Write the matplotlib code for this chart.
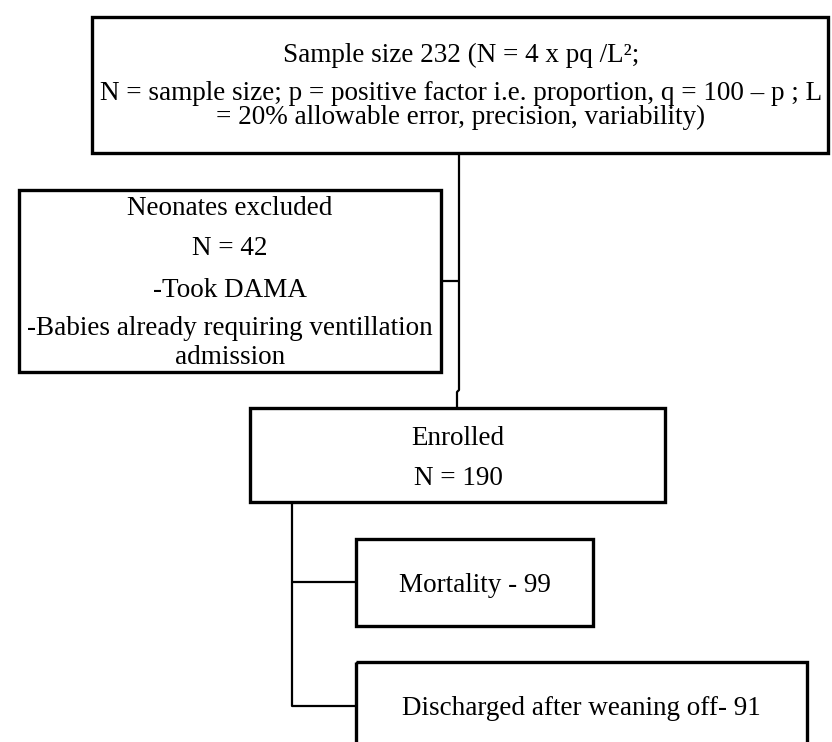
import matplotlib.pyplot as plt
from matplotlib.patches import Rectangle

plt.rcParams["font.family"] = ["Liberation Serif", "DejaVu Serif"]

# Flow numbers
sample_size = 232
excluded = 42
enrolled = 190
mortality = 99
discharged = 91

top_lines = [
    f"Sample size {sample_size} (N = 4 x pq /L²;",
    "N = sample size; p = positive factor i.e. proportion, q = 100 – p ; L",
    "= 20% allowable error, precision, variability)",
]
excluded_lines = [
    "Neonates excluded",
    f"N = {excluded}",
    "-Took DAMA",
    "-Babies already requiring ventillation",
    "admission",
]
enrolled_lines = ["Enrolled", f"N = {enrolled}"]
mortality_label = f"Mortality - {mortality}"
discharged_label = f"Discharged after weaning off- {discharged}"

fig = plt.figure(figsize=(8.32, 7.42), dpi=100)
ax = fig.add_axes([0, 0, 1, 1])
ax.set_xlim(0, 832)
ax.set_ylim(742, 0)
ax.axis("off")

fs = 19.5


def box(x0, y0, x1, y1, lw=2.4):
    ax.add_patch(Rectangle((x0, y0), x1 - x0, y1 - y0, fill=False,
                           edgecolor="black", linewidth=lw, clip_on=True))


def label(x, y, t):
    ax.text(x, y, t, ha="center", va="baseline", fontsize=fs)


def line(xs, ys, lw=1.6):
    ax.plot(xs, ys, color="black", linewidth=lw, solid_capstyle="butt")


# top box
box(92, 17, 828, 153)
for y, t in zip([62, 100, 124], top_lines):
    label(461, y, t)

# excluded box
box(19, 190, 441, 372)
for y, t in zip([215, 255, 297, 335, 364], excluded_lines):
    label(230, y, t)

# enrolled box
box(250, 408, 665, 502)
for y, t in zip([445, 485], enrolled_lines):
    label(458, y, t)

# mortality and discharged boxes
box(356, 539, 593, 626)
label(475, 592, mortality_label)
box(356, 662, 807, 780)
label(581, 715, discharged_label)

# connectors
line([459, 459, 457, 457], [153, 390, 392, 408])
line([441, 459], [281, 281])
line([292, 292, 356], [502, 706, 706])
line([292, 356], [582, 582])

fig.savefig("out.png", dpi=100)
